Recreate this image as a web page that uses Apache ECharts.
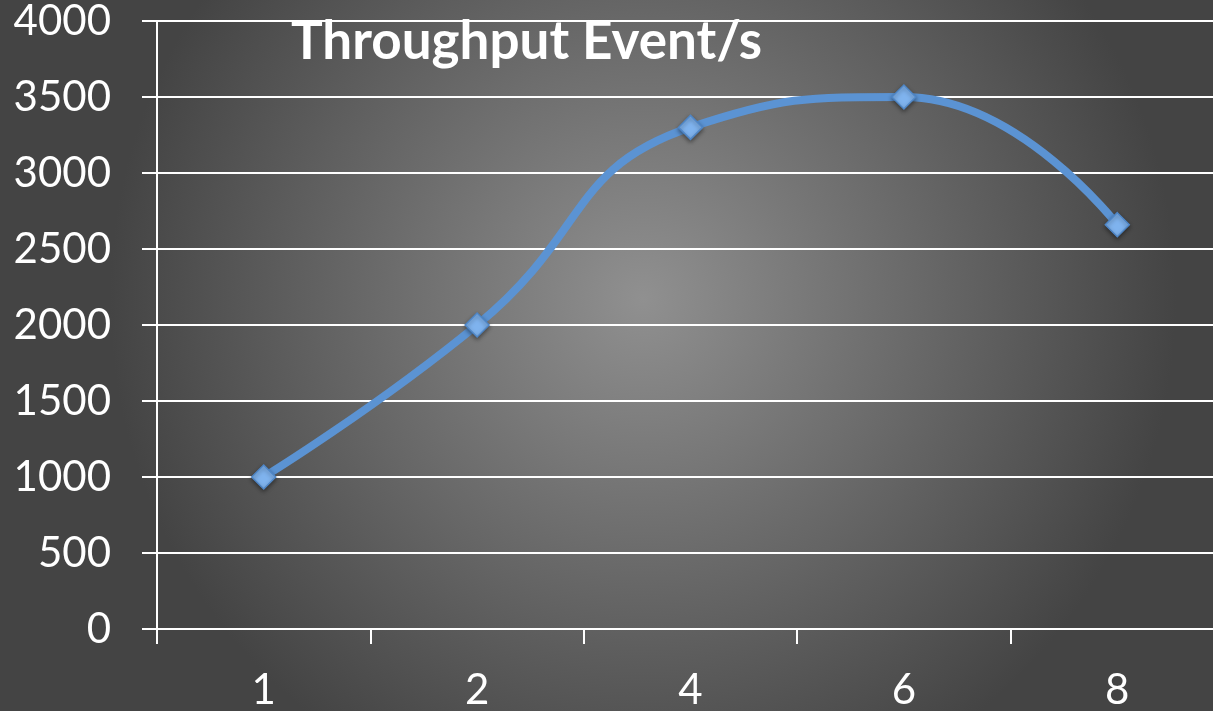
<!DOCTYPE html>
<html>
<head>
<meta charset="utf-8">
<script src="https://cdn.jsdelivr.net/npm/echarts@6/dist/echarts.min.js"></script>
<style>
  html, body { margin: 0; padding: 0; }
  #chart { width: 1213px; height: 711px; }
</style>
</head>
<body>
<div id="chart"></div>
<script>
var categories = ['1', '2', '4', '6', '8'];
var throughput = [1000, 2000, 3300, 3500, 2660];
var titleText = 'Throughput Event/s';

var chart = echarts.init(document.getElementById('chart'));

var option = {
  backgroundColor: {
    type: 'radial', x: 0.53, y: 0.42, r: 0.75,
    colorStops: [
      { offset: 0, color: '#909090' },
      { offset: 1, color: '#444444' }
    ]
  },
  textStyle: { fontFamily: 'Lato' },
  title: {
    text: titleText,
    left: 286,
    top: 10,
    textStyle: { color: '#fff', fontSize: 53, fontWeight: 'bold', fontFamily: 'Lato' }
  },
  // plot runs past the right edge of the picture, like the reference
  grid: { left: 157, width: 1067, top: 21, bottom: 82, containLabel: false, outerBoundsMode: 'none' },
  xAxis: {
    type: 'category',
    data: categories,
    boundaryGap: true,
    axisLine: { lineStyle: { color: '#fff', width: 2 } },
    axisTick: { show: true, length: 15, lineStyle: { color: '#fff', width: 2 } },
    axisLabel: { color: '#fff', fontSize: 42, margin: 40 }
  },
  yAxis: {
    type: 'value',
    min: 0, max: 4000, interval: 500,
    axisLine: { show: true, lineStyle: { color: '#fff', width: 2 } },
    axisTick: { show: true, length: 15, lineStyle: { color: '#fff', width: 2 } },
    axisLabel: { color: '#fff', fontSize: 42, margin: 46, formatter: function (v) { return String(v); } },
    splitLine: { lineStyle: { color: '#fff', width: 2 } }
  },
  series: [{
    type: 'line',
    data: throughput,
    smooth: 0.5,
    symbol: 'diamond',
    symbolSize: 24,
    lineStyle: { color: '#5b93d3', width: 8 },
    itemStyle: { color: '#7fb3ee', borderColor: '#4f86c6', borderWidth: 1.5,
      shadowColor: 'rgba(0,0,0,0.4)', shadowBlur: 4, shadowOffsetY: 2 },
    animation: false
  }],
  animation: false
};

chart.setOption(option);
</script>
</body>
</html>
